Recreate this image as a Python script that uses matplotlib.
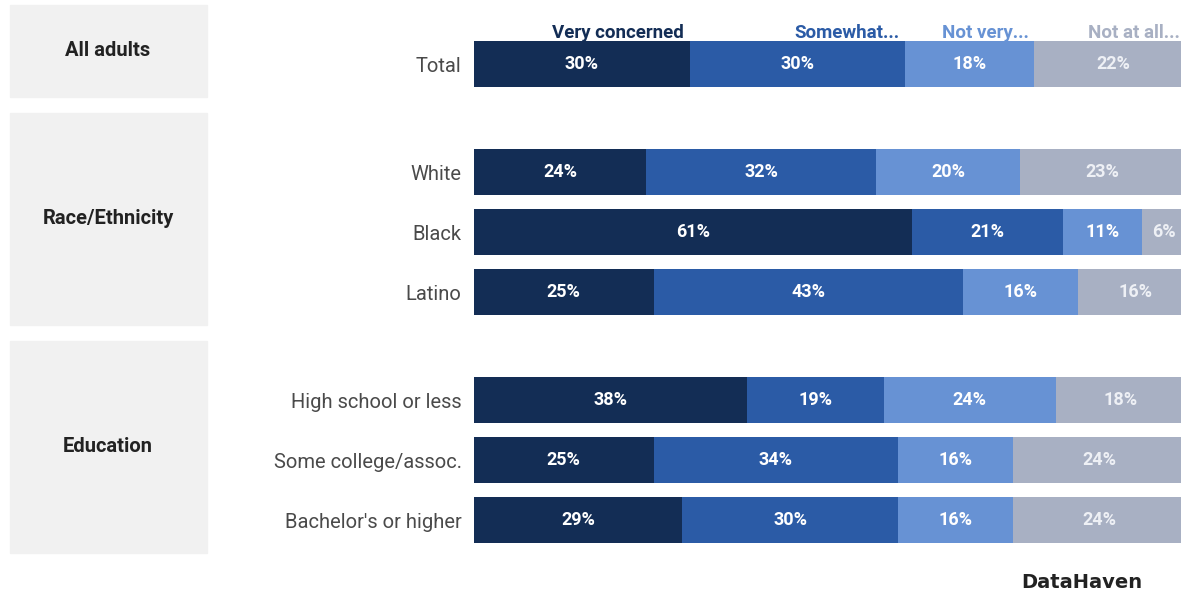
import matplotlib.pyplot as plt
import matplotlib.transforms as mtransforms
from matplotlib.patches import Rectangle
import numpy as np

# data
categories = ["Total", "White", "Black", "Latino",
              "High school or less", "Some college/assoc.", "Bachelor's or higher"]
very_concerned = [30, 24, 61, 25, 38, 25, 29]
somewhat = [30, 32, 21, 43, 19, 34, 30]
not_very = [18, 20, 11, 16, 24, 16, 16]
not_at_all = [22, 23, 6, 16, 18, 24, 24]
series_names = ["Very concerned", "Somewhat...", "Not very...", "Not at all..."]
groups = ["All adults", "Race/Ethnicity", "Education"]
group_rows = [[0], [1, 2, 3], [4, 5, 6]]

colors = ["#132d55", "#2b5ba6", "#6792d4", "#a8b0c3"]
label_colors = ["white", "white", "white", "#eef0f5"]

# row positions: gap of 0.8 rows between groups
ypos = np.array([0, 1.8, 2.8, 3.8, 5.6, 6.6, 7.6])

W, H = 1181, 594
fig = plt.figure(figsize=(W / 100, H / 100), dpi=100)
ax = fig.add_axes([474 / W, 0, (W - 474) / W, 1])
xmax = 98.4
ax.set_xlim(0, xmax)
ax.set_ylim(ypos[0] + (H - 64) / 60, ypos[0] - 64 / 60)
for s in ax.spines.values():
    s.set_visible(False)
ax.set_xticks([])

series = [very_concerned, somewhat, not_very, not_at_all]
left = np.zeros(len(categories))
bar_h = 0.78
for i, vals in enumerate(series):
    vals = np.array(vals, dtype=float)
    ax.barh(ypos, vals, left=left, height=bar_h, color=colors[i], clip_on=True)
    for y, l, v in zip(ypos, left, vals):
        ax.text(l + v / 2, y, f"{int(v)}%", ha="center", va="center",
                color=label_colors[i], fontsize=13, fontweight="bold",
                family="Roboto", clip_on=True)
    # header legend above Total bar
    xr = min(left[0] + vals[0] - 0.8, xmax - 0.2)
    ax.text(xr, ypos[0] - bar_h / 2 + 0.02, series_names[i],
            ha="right", va="bottom", color=colors[i], fontsize=13.5,
            fontweight="bold", family="Roboto", clip_on=False)
    left += vals

ax.set_yticks(ypos)
ax.set_yticklabels(categories, family="Roboto", fontsize=14.5, color="#4a4a4a")
ax.tick_params(axis="y", length=0, pad=9)

# group boxes on the left
trans = mtransforms.blended_transform_factory(fig.transFigure, ax.transData)
for name, rows in zip(groups, group_rows):
    n = len(rows)
    center = ypos[rows].mean() - 13 / 60
    half = (n * 60 + 32) / 2 / 60
    box = Rectangle((10 / W, center - half), 197 / W, 2 * half,
                    transform=trans, color="#f1f1f1", zorder=0, clip_on=False)
    fig.add_artist(box)
    fig.text(108 / W, center, name, transform=trans, ha="center", va="center",
             fontsize=14.5, fontweight="bold", family="Roboto", color="#222222")

fig.text(1082 / W, 1 - 583 / H, "DataHaven", ha="center", va="center",
         fontsize=14, fontweight="bold", family="DejaVu Sans", color="#222222")

fig.savefig("out.png", dpi=100)
